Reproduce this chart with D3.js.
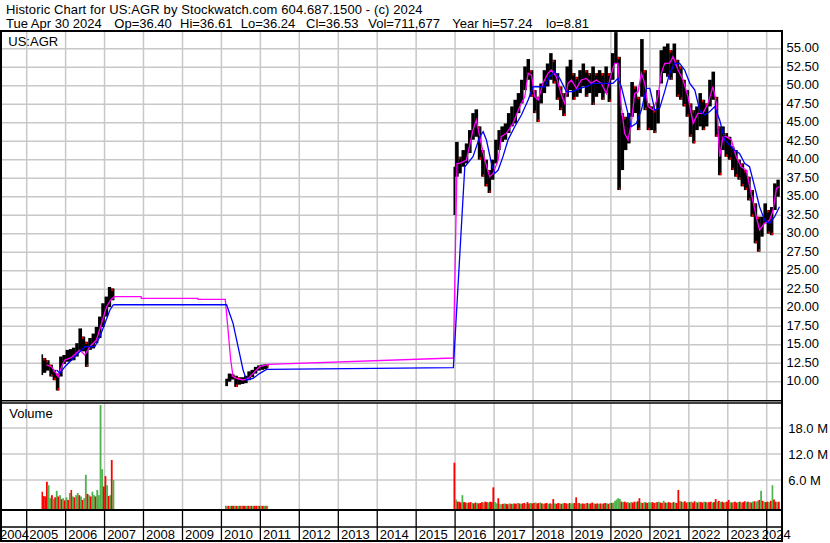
<!DOCTYPE html>
<html><head><meta charset="utf-8">
<script src="https://cdn.jsdelivr.net/npm/d3@7"></script>
<style>
body{margin:0;background:#fff}
text{font-family:"Liberation Sans",Arial,sans-serif;font-size:13px;fill:#000}
</style></head>
<body><svg id="c" width="830" height="543"></svg>
<script>
// ---------------- DATA ----------------
const years = d3.range(2004, 2025);
const priceTicks = d3.range(10, 55.01, 2.5);
const volTicks = [6, 12, 18];

// Segment A (2005-2007), monthly high / low
const aStart = "2005-05-20", aEnd = "2007-04-02";
const aHigh = [13.7,13.2,12.9,12.3,11.6,11.1,13.4,13.6,14.3,14.4,14.6,15.2,17.2,16.1,15.4,15.9,16.5,17.4,18.8,20.6,21.5,22.8,22.6];
const aLow  = [10.9,11.2,11.5,10.7,10.2,8.81,10.7,12.4,12.7,12.8,12.9,13.4,14.1,14.1,12.0,14.3,14.5,15.2,15.9,17.4,18.8,20.1,21.0];
// Segment B (2010-2011)
const bStart = "2010-02-06", bEnd = "2011-03-14";
const bHigh = [10.4,11.1,11.0,10.8,10.6,10.6,10.8,11.4,11.6,12.0,12.2,12.3,12.35,12.3];
const bLow  = [9.4,10.0,10.3,9.3,9.6,9.7,9.8,10.2,10.6,11.1,11.5,11.6,11.7,11.8];
// Segment C (2015-2024)
const cStart = "2015-12-17", cEnd = "2024-04-30";
const cHigh = [39.05,
 42.4,40.4,41.3,42.2,44.0,46.3,46.8,44.5,41.3,40.0,38.6,40.0,
 42.7,44.0,44.5,44.9,46.3,47.2,48.1,49.0,50.8,52.6,53.6,52.1,
 49.4,48.5,50.3,52.1,53.0,54.4,53.5,51.7,49.9,49.0,52.6,53.5,
 51.7,51.2,52.1,53.0,52.1,51.7,52.6,51.7,52.1,51.7,52.6,51.7,
 54.4,57.24,53.9,46.3,45.8,46.3,50.5,49.9,48.5,56.3,52.1,47.6,
 47.2,46.7,49.4,54.8,55.3,55.7,54.8,55.7,53.5,52.6,50.8,49.4,
 47.6,46.7,47.2,49.0,48.1,47.6,50.8,51.9,48.5,44.5,44.5,43.6,
 43.1,41.8,41.3,40.0,39.5,38.6,37.7,35.9,34.1,32.3,32.3,34.1,
 33.2,33.6,36.8,37.3];
const cLow = [32.52,
 37.7,38.15,39.05,39.5,40.9,42.7,43.1,40.0,37.7,36.4,35.5,37.3,
 39.5,41.3,42.4,42.7,43.6,44.5,44.9,46.3,47.6,49.4,50.8,48.5,
 46.3,45.1,47.6,49.0,49.9,50.8,50.3,48.1,46.7,45.9,48.5,49.4,
 48.1,48.5,49.0,49.9,48.5,49.0,47.4,48.5,49.0,48.1,49.0,47.8,
 50.8,53.0,35.9,38.6,41.3,42.2,45.8,46.3,44.0,48.5,46.7,44.0,
 44.0,43.6,44.9,50.3,51.7,51.2,50.8,51.7,48.5,48.1,47.2,45.8,
 43.1,42.2,44.0,44.5,44.0,44.5,47.2,48.1,43.1,37.9,41.3,40.4,
 40.0,38.6,37.7,37.3,36.4,35.9,34.5,32.3,28.7,27.57,29.6,31.4,
 30.0,29.8,33.2,35.0];

// Volume (millions), half-month, g = up, r = down
const aVol = [3.3,2.3,2.2,5.6,4.8,1.8,2.5,1.6,2.0,3.5,2.2,2.5,1.6,1.8,1.3,2.0,1.4,3.0,3.7,2.2,2.0,2.5,3.0,2.5,2.2,1.4,1.8,7.2,2.8,2.5,2.2,3.3,2.5,2.2,3.7,2.5,23.3,8.5,4.5,6.9,4.8,2.3,2.5,10.6,6.0];
const aVolCol = "rrrrggrgrgrgrgrgrgrgrggrgrggrgrggrggggrrgrgrg";
const bVol = [0.05,0.04,0.03,0.05,0.04,0.03,0.05,0.03,0.04,0.03,0.05,0.04,0.03,0.03,0.04,0.05,0.03,0.04,0.03,0.05,0.04,0.03,0.05,0.04,0.03,0.04,0.03];
const bVolCol = "rgrgrrgrgrgrrgrgrgrrgrgrgrg";
const cVol = [10.0,
 1.5,1.0,1.0,0.8,2.5,0.9,0.8,0.7,0.8,0.9,0.7,0.6,0.8,0.7,0.6,0.7,0.9,0.8,1.0,0.9,0.8,1.0,0.9,4.3,
 0.9,0.6,1.8,0.5,0.4,0.5,0.6,0.5,0.4,0.6,0.5,0.5,0.6,0.5,0.7,0.6,0.5,0.6,0.7,0.5,0.9,0.6,0.7,0.6,
 0.7,0.8,0.6,0.7,0.8,0.6,0.5,0.6,0.7,0.5,0.6,0.5,1.6,0.6,0.5,0.7,0.6,0.5,0.6,0.7,0.6,0.5,0.7,0.6,
 0.6,0.7,2.0,0.6,0.7,0.5,0.6,0.5,0.6,0.7,0.5,0.6,0.8,0.6,0.5,0.6,0.5,0.6,0.5,0.6,0.7,0.6,0.5,0.7,
 0.7,0.8,1.2,1.5,1.8,1.6,1.0,0.9,1.0,0.8,0.9,0.7,0.9,0.8,1.0,0.9,1.1,1.8,0.8,0.7,0.9,0.8,0.7,0.9,
 0.8,0.9,0.7,0.8,0.9,1.0,0.8,0.7,1.2,0.8,0.7,0.9,0.8,0.7,0.9,0.8,0.7,3.7,1.2,1.0,0.9,1.1,0.8,0.9,
 0.9,1.0,0.8,1.1,0.9,0.8,1.0,0.9,0.8,1.0,0.9,0.8,0.9,1.0,0.8,0.9,1.6,1.0,1.2,0.9,1.0,0.8,0.9,1.0,
 1.4,0.9,0.8,0.9,1.0,0.8,0.9,1.0,0.8,0.9,1.1,0.9,1.0,0.9,0.8,1.0,1.1,1.0,1.2,1.4,3.5,1.2,1.0,0.9,
 1.0,0.9,1.2,4.8,1.5,1.0,0.9,1.0];
const cVolCol = "r" +
 "grrrgrrgrrgrrgrrrgrrgrrr" + "ggrggrgrrgrgrrgrgrrgrrgr" + "rgrrgrgrrgrgrgrrgrgrrgrg" +
 "grrgrgrrgrgrrgrrgrgrrgrg" + "rgggggrgrrgrgrrgrrgrgrrg" + "grrgrgrrgrgrrgrgrrgrgrrg" +
 "rgrrgrgrrgrgrrgrrgrgrrgr" + "rgrgrrgrgrrgrgrgrggrgrgr" + "rgrgrrgr";

// Moving averages [date, value]
const maShort = [
["2005-07-05",12.26],["2005-08-22",12.03],["2005-09-23",11.36],["2005-10-23",10.68],["2005-11-24",12.03],["2005-12-25",12.93],["2006-02-26",13.29],["2006-05-14",14.28],["2006-06-30",13.61],["2006-08-16",14.73],["2006-10-17",15.63],["2006-12-04",17.89],["2007-01-20",20.14],["2007-02-28",21.04],["2007-04-02",21.49],
["2007-12-10",21.49],["2007-12-12",21.27],["2009-05-25",21.27],["2009-05-27",21.13],
["2010-02-06",21.13],["2010-03-04",16.99],["2010-03-29",12.93],["2010-04-20",10.68],["2010-05-21",10.45],["2010-07-23",10.23],["2010-09-09",10.45],["2010-10-25",11.13],["2010-12-27",12.03],["2011-02-28",12.26],["2011-03-14",12.35],
["2015-12-16",13.2],
["2016-01-19",39.5],["2016-02-14",39.5],["2016-04-16",39.95],["2016-06-17",44.0],["2016-07-18",45.36],["2016-08-19",43.11],["2016-10-05",39.95],["2016-11-21",37.7],["2016-12-22",38.15],["2017-02-08",39.95],["2017-03-09",43.11],["2017-04-25",43.56],["2017-06-27",44.91],["2017-08-29",47.16],["2017-10-15",48.51],["2017-11-16",51.67],["2017-12-17",51.44],["2018-01-17",48.51],["2018-02-18",48.06],["2018-04-04",50.32],["2018-05-21",51.67],["2018-06-21",52.12],["2018-08-07",51.22],["2018-09-24",48.74],["2018-10-24",47.61],["2018-11-25",50.32],["2018-12-26",50.77],["2019-02-12",49.64],["2019-03-29",50.77],["2019-05-15",50.99],["2019-07-01",50.32],["2019-08-17",50.77],["2019-10-03",50.32],["2019-11-19",48.96],["2020-01-06",51.67],["2020-02-06",53.02],["2020-03-07",53.02],["2020-04-08",47.16],["2020-05-09",43.56],["2020-06-10",42.66],["2020-07-10",44.91],["2020-08-11",48.96],["2020-09-12",49.19],["2020-10-13",51.67],["2020-11-14",50.32],["2020-12-15",47.16],["2021-02-01",46.71],["2021-03-17",48.51],["2021-04-18",51.67],["2021-05-19",53.02],["2021-07-05",53.02],["2021-08-06",53.92],["2021-09-22",52.12],["2021-11-08",50.77],["2021-12-24",48.51],["2022-02-10",44.91],["2022-03-27",46.26],["2022-05-13",46.26],["2022-06-29",47.61],["2022-08-15",49.86],["2022-09-16",47.61],["2022-10-17",40.41],["2022-11-18",43.11],["2022-12-18",43.11],["2023-02-04",42.66],["2023-03-21",40.41],["2023-05-07",39.05],["2023-06-23",38.6],["2023-08-09",35.45],["2023-09-25",32.3],["2023-10-26",30.5],["2023-12-12",31.4],["2024-01-29",31.85],["2024-03-01",33.2],["2024-04-01",36.13],["2024-04-30",36.35]];
const maLong = [
["2005-10-08",11.58],["2005-11-09",11.13],["2005-12-25",12.03],["2006-03-27",13.38],["2006-06-30",14.73],["2006-10-02",14.73],["2006-11-18",16.09],["2007-01-05",17.89],["2007-02-20",19.69],["2007-03-22",20.36],["2007-04-02",20.4],
["2010-02-18",20.4],["2010-04-20",17.89],["2010-06-06",14.73],["2010-07-23",11.58],["2010-08-24",10.23],["2010-10-25",10.45],["2010-12-27",11.13],["2011-02-28",11.67],["2011-03-14",11.67],
["2015-12-16",11.9],["2016-04-01",39.05],["2016-06-17",40.41],["2016-08-19",43.11],["2016-09-20",43.78],["2016-10-21",42.66],["2016-12-07",39.5],["2017-01-08",38.15],["2017-02-08",38.6],["2017-03-25",40.41],["2017-05-11",42.66],["2017-07-13",44.46],["2017-09-14",46.04],["2017-11-16",48.06],["2018-01-02",49.86],["2018-03-04",49.86],["2018-04-20",49.86],["2018-06-06",51.22],["2018-07-22",51.89],["2018-09-08",50.99],["2018-11-10",49.19],["2019-01-12",49.19],["2019-03-13",49.64],["2019-05-15",49.86],["2019-07-17",50.32],["2019-09-18",50.32],["2019-11-19",50.32],["2020-01-21",50.32],["2020-03-07",50.99],["2020-04-08",49.86],["2020-05-24",47.16],["2020-07-10",44.46],["2020-08-27",44.91],["2020-10-13",46.71],["2020-11-29",49.64],["2020-12-31",49.64],["2021-02-16",46.71],["2021-04-02",46.94],["2021-05-19",49.19],["2021-07-05",51.67],["2021-08-21",53.02],["2021-10-07",53.02],["2021-11-23",52.12],["2022-01-10",50.32],["2022-02-26",49.41],["2022-04-12",46.71],["2022-05-28",46.04],["2022-07-14",46.49],["2022-08-31",47.16],["2022-10-17",45.36],["2022-12-03",42.66],["2023-01-19",41.98],["2023-03-05",41.31],["2023-04-21",40.86],["2023-06-08",39.5],["2023-07-24",39.05],["2023-09-10",36.35],["2023-10-26",33.65],["2023-12-12",31.85],["2024-01-29",31.4],["2024-03-15",32.3],["2024-04-30",33.65]];

const title1 = "Historic Chart for US:AGR by Stockwatch.com 604.687.1500 - (c) 2024";
const title2 = ["Tue Apr 30 2024","Op=36.40","Hi=36.61","Lo=36.24","Cl=36.53","Vol=711,677","Year hi=57.24","lo=8.81"];

// ---------------- LAYOUT ----------------
const L = 2, R = 781, TOP = 32, MID = 400, VTOP = 403, VBOT = 509;
const parse = d3.timeParse("%Y-%m-%d");
const x = d3.scaleTime().domain([new Date(2005,0,1), new Date(2024,0,1)]).range([26.7, 766.7]);
const y = d3.scaleLinear().domain([10,55]).range([381.7,48.7]);
const yv = d3.scaleLinear().domain([0,24]).range([506,402]);
const svg = d3.select("#c");
const GREY = "#c8c8c8", GREEN = "#4db34d", RED = "#ff0000";

const defs = svg.append("defs");
defs.append("clipPath").attr("id","cm").append("rect").attr("x",L).attr("y",TOP).attr("width",R-L).attr("height",MID-TOP);
defs.append("clipPath").attr("id","cv").append("rect").attr("x",L).attr("y",VTOP).attr("width",R-L).attr("height",VBOT-VTOP);

// header
svg.append("text").attr("x",6).attr("y",14).attr("textLength",416.5).attr("lengthAdjust","spacing").text(title1);
const t2x = [6,114.3,180,240.7,306,368.3,452.3,546];
svg.append("g").selectAll("text").data(title2).join("text")
  .attr("x",(d,i)=>t2x[i]).attr("y",28).text(d=>d);

// grids
const yearLines = years.slice(1).map(yr=>new Date(yr,0,1));
const gm = svg.append("g");
gm.selectAll(".hg").data(priceTicks).join("line")
  .attr("x1",L).attr("x2",R).attr("y1",d=>y(d)).attr("y2",d=>y(d)).attr("stroke",GREY).attr("stroke-width",1.5);
gm.selectAll(".vg").data(yearLines).join("line")
  .attr("x1",d=>x(d)).attr("x2",d=>x(d)).attr("y1",TOP).attr("y2",MID).attr("stroke",GREY).attr("stroke-width",1.5);
const gv = svg.append("g");
gv.selectAll("line.h").data(volTicks).join("line").attr("class","h")
  .attr("x1",L).attr("x2",R).attr("y1",d=>yv(d)).attr("y2",d=>yv(d)).attr("stroke",GREY).attr("stroke-width",1.5);
gv.selectAll("line.v").data(yearLines).join("line").attr("class","v")
  .attr("x1",d=>x(d)).attr("x2",d=>x(d)).attr("y1",VTOP).attr("y2",VBOT).attr("stroke",GREY).attr("stroke-width",1.5);

// bar builders
function monthBars(start,end,hi,lo){
  const s=parse(start), e=parse(end), m0=d3.timeMonth.floor(s);
  return hi.map((h,i)=>{
    let a=d3.timeMonth.offset(m0,i), b=d3.timeMonth.offset(m0,i+1);
    if(a<s)a=s; if(b>e)b=e;
    return {a,b,h,l:lo[i],ph:i?hi[i-1]:h,pl:i?lo[i-1]:lo[i]};
  });
}
function halfDate(m0,k){const d=d3.timeMonth.offset(m0,Math.floor(k/2));return new Date(d.getFullYear(),d.getMonth(),k%2?16:1);}
function halfBars(start,end,vals,cols){
  const s=parse(start), e=parse(end), m0=d3.timeMonth.floor(s), h0=s.getDate()>=16?1:0;
  return vals.map((v,i)=>{
    let a=halfDate(m0,h0+i), b=halfDate(m0,h0+i+1);
    if(a<s)a=s; if(b>e)b=e;
    return {a,b,v,c:cols[i]};
  });
}
const priceBars = [].concat(monthBars(aStart,aEnd,aHigh,aLow),monthBars(bStart,bEnd,bHigh,bLow),monthBars(cStart,cEnd,cHigh,cLow));
const volBars = [].concat(halfBars(aStart,aEnd,aVol,aVolCol),halfBars(bStart,bEnd,bVol,bVolCol),halfBars(cStart,cEnd,cVol,cVolCol));

// price marks
const pm = svg.append("g").attr("clip-path","url(#cm)");
pm.selectAll("rect.b").data(priceBars).join("rect").attr("class","b")
  .attr("x",d=>x(d.a)).attr("width",d=>Math.max(1.2,x(d.b)-x(d.a)+0.3))
  .attr("y",d=>y(d.h)).attr("height",d=>y(d.l)-y(d.h)).attr("fill","#000");
pm.selectAll("rect.rt").data(priceBars.filter(d=>d.h<d.ph)).join("rect").attr("class","rt")
  .attr("x",d=>x(d.a)+0.5).attr("width",1.4).attr("y",d=>y(d.h)).attr("height",2.5).attr("fill",RED);
pm.selectAll("rect.rb").data(priceBars.filter(d=>d.l<d.pl)).join("rect").attr("class","rb")
  .attr("x",d=>x(d.b)-1.6).attr("width",1.4).attr("y",d=>y(d.l)-2.5).attr("height",2.5).attr("fill",RED);

const line = d3.line().x(d=>x(parse(d[0]))).y(d=>y(d[1]));
pm.append("path").attr("d",line(maShort)).attr("fill","none").attr("stroke","#ff00ff").attr("stroke-width",1.3);
pm.append("path").attr("d",line(maLong)).attr("fill","none").attr("stroke","#0000ff").attr("stroke-width",1.3);

// volume marks
const vm = svg.append("g").attr("clip-path","url(#cv)");
vm.selectAll("rect").data(volBars).join("rect")
  .attr("x",d=>x(d.a)).attr("width",d=>Math.max(0.8,x(d.b)-x(d.a)+0.2))
  .attr("y",d=>Math.min(yv(d.v),507.5)).attr("height",d=>VBOT-Math.min(yv(d.v),507.5))
  .attr("fill",d=>d.c==="g"?GREEN:RED);

// labels
svg.append("text").attr("x",8.3).attr("y",46).text("US:AGR");
svg.append("text").attr("x",9.3).attr("y",418.3).text("Volume");
svg.append("g").selectAll("text").data(priceTicks).join("text")
  .attr("x",786.5).attr("y",d=>y(d)+3.3).text(d=>d3.format(".2f")(d));
svg.append("g").selectAll("text").data(volTicks).join("text")
  .attr("x",788.3).attr("y",d=>yv(d)+5).text(d=>d3.format(".1f")(d)+" M");

// bottom time axis
const ax = svg.append("g");
ax.selectAll("line").data(yearLines).join("line")
  .attr("x1",d=>x(d)).attr("x2",d=>x(d)).attr("y1",510).attr("y2",541).attr("stroke","#000").attr("stroke-width",1.3);
ax.selectAll("text").data(years).join("text")
  .attr("x",yr=>Math.min(761.7,Math.max(0,x(new Date(yr,0,1))+2.6))).attr("y",539).text(yr=>yr);

// frame
const fr = svg.append("g").attr("stroke","#000").attr("fill","none");
fr.append("line").attr("x1",0).attr("x2",783).attr("y1",31).attr("y2",31).attr("stroke-width",2);
fr.append("line").attr("x1",0).attr("x2",783).attr("y1",400.7).attr("y2",400.7).attr("stroke-width",1.5);
fr.append("line").attr("x1",0).attr("x2",783).attr("y1",403).attr("y2",403).attr("stroke-width",1.5);
fr.append("line").attr("x1",0).attr("x2",783).attr("y1",510).attr("y2",510).attr("stroke-width",2);
fr.append("line").attr("x1",0).attr("x2",783).attr("y1",527).attr("y2",527).attr("stroke-width",1.5);
fr.append("line").attr("x1",0).attr("x2",783).attr("y1",541).attr("y2",541).attr("stroke-width",2);
fr.append("line").attr("x1",1).attr("x2",1).attr("y1",30).attr("y2",542).attr("stroke-width",2);
fr.append("line").attr("x1",782).attr("x2",782).attr("y1",30).attr("y2",542).attr("stroke-width",2);
</script></body></html>
